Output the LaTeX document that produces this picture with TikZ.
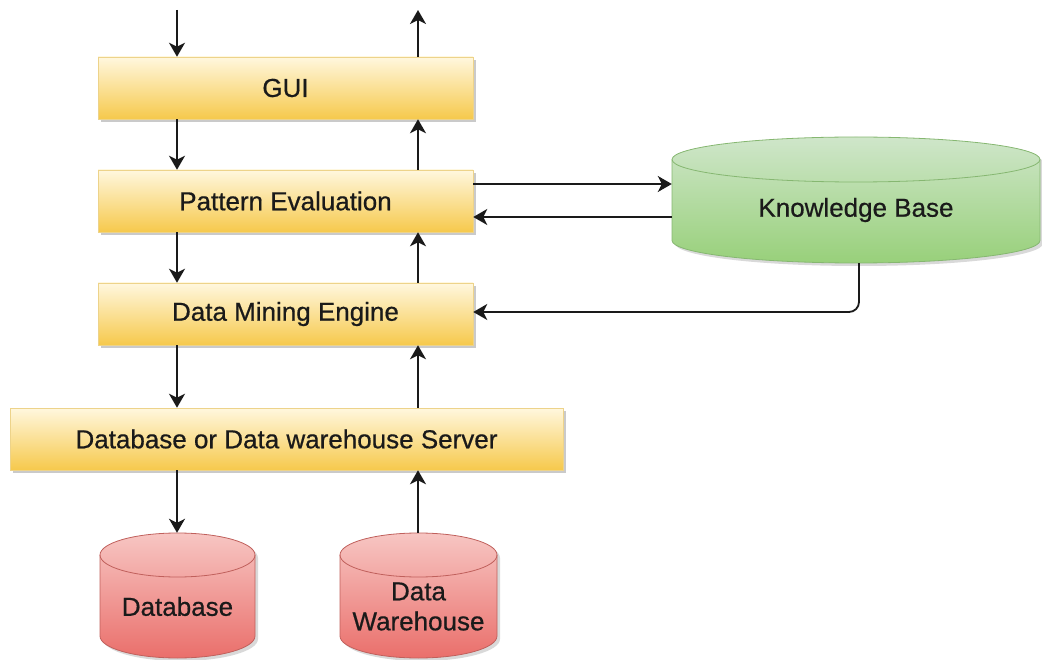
\documentclass[tikz,border=0pt]{standalone}
\usepackage{fontspec}
\setmainfont{Liberation Sans}
\newfontfamily\labelfont[FakeBold=0.6]{Liberation Sans}
\usetikzlibrary{arrows.meta,shadows,calc}

\definecolor{boxtop}{HTML}{FFF7DE}
\definecolor{boxbot}{HTML}{F6C94C}
\definecolor{boxline}{HTML}{EDD38A}
\definecolor{kbtop}{HTML}{CFE6CA}
\definecolor{kbbot}{HTML}{98D07A}
\definecolor{kbline}{HTML}{86B771}
\definecolor{dbtop}{HTML}{F7C6C3}
\definecolor{dbbot}{HTML}{EA6F6B}
\definecolor{dbline}{HTML}{C0605C}
\definecolor{ink}{HTML}{1A1A1A}

% cylinder: #1 centre x, #2 top y, #3 bottom y, #4 x radius, #5 y radius,
%           #6 top colour, #7 bottom colour, #8 outline colour
\newcommand\drawcyl[8]{%
  \path[top color=#6, bottom color=#7, draw=#8, line width=0.8pt,
        drop shadow={shadow xshift=3pt, shadow yshift=-3pt, opacity=0.25, fill=black!60}]
    (#1-#4,#2+#5) arc[start angle=180, end angle=360, x radius=#4, y radius=#5]
    -- (#1+#4,#3-#5) arc[start angle=0, end angle=180, x radius=#4, y radius=#5] -- cycle;
  \draw[draw=#8, line width=0.8pt]
    (#1-#4,#2+#5) arc[start angle=180, end angle=0, x radius=#4, y radius=#5];
}

\begin{document}
\begin{tikzpicture}[x=1pt, y=-1pt,
  txt/.style={font=\labelfont\fontsize{26}{30}\selectfont, text=ink},
  layer/.style={txt, rectangle, inner sep=0pt, minimum height=62pt,
    top color=boxtop, bottom color=boxbot, draw=boxline, line width=0.5pt,
    drop shadow={shadow xshift=3pt, shadow yshift=-3pt, opacity=0.35, fill=black!60}},
  store/.style={rectangle, inner sep=0pt},
  flow/.style={draw=ink, line width=1.8pt,
    -{Stealth[length=14pt, width=16pt, inset=4pt]}}
]
\useasboundingbox (0,0) rectangle (1042,660);

% storage cylinders
\drawcyl{856}{137}{263}{184}{22.5}{kbtop}{kbbot}{kbline}
\drawcyl{177.5}{533}{658}{77.5}{22}{dbtop}{dbbot}{dbline}
\drawcyl{418.5}{533}{658}{78.5}{22}{dbtop}{dbbot}{dbline}

\node[store, minimum width=368pt, minimum height=126pt,
      label={[txt, yshift=-10pt]center:Knowledge Base}] (kb) at (856,200) {};
\node[store, minimum width=155pt, minimum height=125pt,
      label={[txt, yshift=-11pt]center:Database}] (db) at (177.5,595.5) {};
\node[store, minimum width=157pt, minimum height=125pt,
      label={[txt, align=center, yshift=-11pt]center:Data\\Warehouse}] (dw) at (418.5,595.5) {};

% system layers
\node[layer, minimum width=375pt] (gui) at (285.5,88)  {GUI};
\node[layer, minimum width=375pt] (pe)  at (285.5,201) {Pattern Evaluation};
\node[layer, minimum width=375pt] (dme) at (285.5,314) {Data Mining Engine};
\node[layer, minimum width=553pt] (srv) at (286.5,439) {Database or Data warehouse Server};

% downward and upward flow columns
\coordinate (in)  at (177,10);
\coordinate (out) at (418,10);

\draw[flow] (in) -- (in |- gui.north);
\draw[flow] (gui.north -| out) -- (out);
\draw[flow] (gui.south -| in) -- (pe.north -| in);
\draw[flow] (pe.north -| out) -- (gui.south -| out);
\draw[flow] (pe.south -| in) -- (dme.north -| in);
\draw[flow] (dme.north -| out) -- (pe.south -| out);
\draw[flow] (dme.south -| in) -- (srv.north -| in);
\draw[flow] (srv.north -| out) -- (dme.south -| out);
\draw[flow] (srv.south -| in) -- (db.north -| in);
\draw[flow] (dw.north -| out) -- (srv.south -| out);

% knowledge base links
\coordinate (peq) at ($(pe.east)+(0,-17)$);
\coordinate (pea) at ($(pe.east)+(0,16)$);
\draw[flow] (peq) -- (peq -| kb.west);
\draw[flow] (pea -| kb.west) -- (pea);
\draw[flow, rounded corners=10pt] ([xshift=3pt]kb.south) |- ($(dme.east)+(0,-2)$);
\end{tikzpicture}
\end{document}
